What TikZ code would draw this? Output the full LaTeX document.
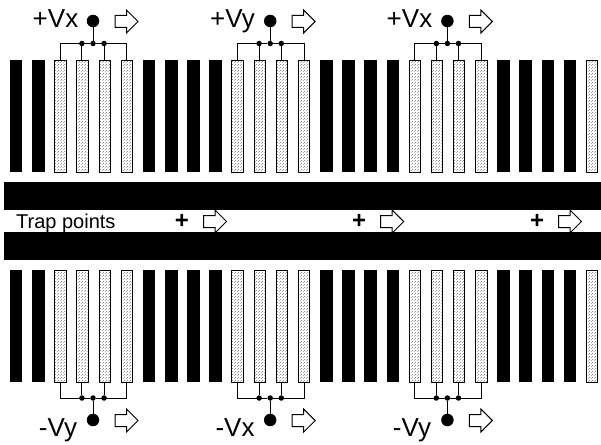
\documentclass[tikz,border=0pt]{standalone}
\usepackage{fontspec}
\setmainfont{Liberation Sans}
\usetikzlibrary{patterns,shapes.arrows,calc}
\pgfdeclarepatternformonly{stipple}{\pgfpointorigin}{\pgfpoint{3pt}{3pt}}{\pgfpoint{3pt}{3pt}}{%
  \pgfpathrectangle{\pgfpoint{0pt}{0pt}}{\pgfpoint{0.8pt}{0.8pt}}%
  \pgfpathrectangle{\pgfpoint{1.5pt}{1.5pt}}{\pgfpoint{0.8pt}{0.8pt}}%
  \pgfusepath{fill}}
\tikzset{
  x=1pt,y=-1pt,
  wire/.style={draw=black,line width=1pt},
  blackel/.style={rectangle,fill=black,draw=none,minimum width=12.5pt,minimum height=112pt,inner sep=0pt,outer sep=0pt},
  dotel/.style={rectangle,draw=black,line width=1pt,pattern=stipple,pattern color=black!70,minimum width=11.5pt,minimum height=112pt,inner sep=0pt,outer sep=0pt},
  rail/.style={rectangle,fill=black,draw=none,minimum width=597pt,minimum height=28pt,inner sep=0pt},
  term/.style={circle,fill=black,minimum size=12.5pt,inner sep=0pt,outer sep=0pt},
  junc/.style={circle,fill=black,minimum size=5.5pt,inner sep=0pt,outer sep=0pt},
  motion/.style={single arrow,draw=black,line width=1pt,fill=white,minimum height=23pt,single arrow head extend=5.5pt,single arrow tip angle=90,inner sep=0pt,outer sep=0pt,anchor=tip},
  volt/.style={font=\fontsize{26}{28}\selectfont,inner sep=0pt,anchor=base},
  trap/.style={font=\fontsize{20}{22}\selectfont,inner sep=0pt,anchor=base west},
  plusmark/.style={font=\bfseries\fontsize{24}{26}\selectfont,inner sep=0pt,anchor=center},
}
\newcommand{\shaft}{\vrule width 0pt height 11pt depth 0pt}
\begin{document}
\begin{tikzpicture}
\useasboundingbox (0,0) rectangle (601,444);
% electrodes
\foreach \i/\st in {0/blackel,1/blackel,2/dotel,3/dotel,4/dotel,5/dotel,6/blackel,7/blackel,8/blackel,9/blackel,10/dotel,11/dotel,12/dotel,13/dotel,14/blackel,15/blackel,16/blackel,17/blackel,18/dotel,19/dotel,20/dotel,21/dotel,22/blackel,23/blackel,24/blackel,25/blackel,26/dotel}{
  \pgfmathsetmacro{\ex}{16.2+22.15*\i}
  \node[\st] (t\i) at (\ex,116) {};
  \node[\st] (b\i) at (\ex,326) {};
}
% rails
\node[rail] (railA) at (302.5,196) {};
\node[rail] (railB) at (302.5,246) {};
% groups
\foreach \n/\a/\bb/\c/\d/\cx/\tl/\tlx/\bl/\blx in {
  1/2/3/4/5/93/{+Vx}/55.5/{-Vy}/58,
  2/10/11/12/13/270.2/{+Vy}/232.5/{-Vx}/235,
  3/18/19/20/21/447.4/{+Vx}/409.5/{-Vy}/412}{
  % top
  \node[term] (tt\n) at (\cx,21) {};
  \node[junc] (tj\n) at (\cx,43.5) {};
  \node[junc] (ta\n) at ($(\cx,43.5)+(-11.07,0)$) {};
  \node[junc] (tc\n) at ($(\cx,43.5)+(11.07,0)$) {};
  \draw[wire] (tt\n) -- (tj\n);
  \draw[wire] (t\a.north) |- (tj\n);
  \draw[wire] (t\d.north) |- (tj\n);
  \draw[wire] (ta\n) -- (ta\n |- t\bb.north);
  \draw[wire] (tc\n) -- (tc\n |- t\c.north);
  \node[motion] (tm\n) at ($(\cx,21.5)+(45,0)$) {\shaft};
  \node[volt] (tv\n) at (\tlx,27.5) {\tl};
  % bottom
  \node[term] (bt\n) at (\cx,420) {};
  \node[junc] (bj\n) at (\cx,398) {};
  \node[junc] (ba\n) at ($(\cx,398)+(-11.07,0)$) {};
  \node[junc] (bc\n) at ($(\cx,398)+(11.07,0)$) {};
  \draw[wire] (bt\n) -- (bj\n);
  \draw[wire] (b\a.south) |- (bj\n);
  \draw[wire] (b\d.south) |- (bj\n);
  \draw[wire] (ba\n) -- (ba\n |- b\bb.south);
  \draw[wire] (bc\n) -- (bc\n |- b\c.south);
  \node[motion] (bm\n) at ($(\cx,420.5)+(45,0)$) {\shaft};
  \node[volt] (bv\n) at (\blx,436) {\bl};
}
% trap row
\node[trap] (traplabel) at (16,228) {Trap points};
\foreach \n/\px in {1/182,2/359.2,3/537}{
  \node[plusmark] (p\n) at (\px,221.5) {+};
  \node[motion] (pm\n) at ($(\px,221.5)+(44.5,0)$) {\shaft};
}
\end{tikzpicture}
\end{document}
